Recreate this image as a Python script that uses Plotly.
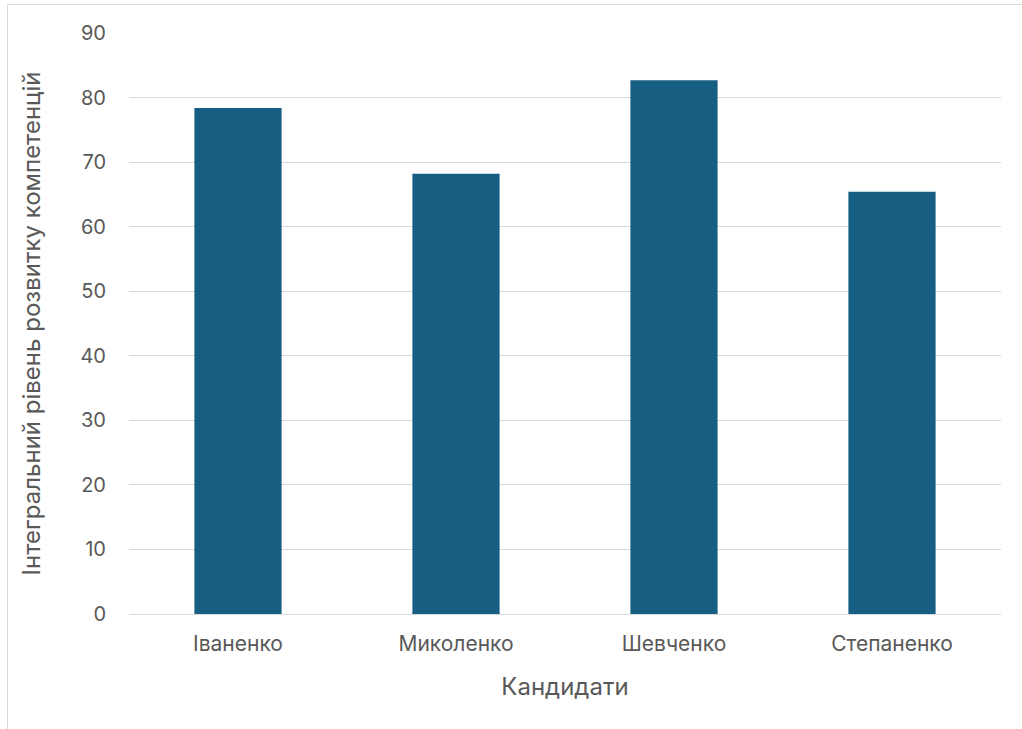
import plotly.graph_objects as go

categories = ["Іваненко", "Миколенко", "Шевченко", "Степаненко"]
values = [78.4, 68.2, 82.7, 65.4]
y_ticks = [0, 10, 20, 30, 40, 50, 60, 70, 80, 90]

W, H = 1022, 729
L, R, T, B = 129, 21, 33, 115
pw = W - L - R
ph = H - T - B

fig = go.Figure(go.Bar(
    x=categories, y=values,
    marker=dict(color="#175F82", line=dict(width=0)),
    width=0.4,
))

font_family = "Inter, Liberation Sans, Arial, sans-serif"

fig.update_layout(
    width=W, height=H,
    margin=dict(l=L, r=R, t=T, b=B),
    paper_bgcolor="white", plot_bgcolor="white",
    font=dict(family=font_family, color="#595959", size=21),
    showlegend=False,
    bargap=0.6,
    shapes=[dict(
        type="rect", xref="paper", yref="paper",
        x0=(7.5 - L) / pw, x1=(W + 5 - L) / pw,
        y0=-(H + 5 - T - ph) / ph, y1=(H - 4.5 - B) / ph,
        line=dict(color="#D9D9D9", width=1), fillcolor="rgba(0,0,0,0)",
        layer="below",
    )],
)

fig.update_xaxes(
    showline=True, linecolor="#D9D9D9", linewidth=1,
    showgrid=False, ticks="", ticklabelstandoff=11,
    tickfont=dict(size=21, color="#595959"),
    title=dict(text="Кандидати", font=dict(size=24, color="#595959"), standoff=22),
)
fig.update_yaxes(
    range=[0, 90], tickvals=y_ticks,
    showgrid=True, gridcolor="#D9D9D9", gridwidth=1,
    zeroline=False, showline=False, ticks="", ticklabelstandoff=22,
    tickfont=dict(size=20, color="#595959"),
    title=dict(text="Інтегральний рівень розвитку компетенцій", font=dict(size=24, color="#595959"), standoff=33),
)

fig.write_html("out.html")
